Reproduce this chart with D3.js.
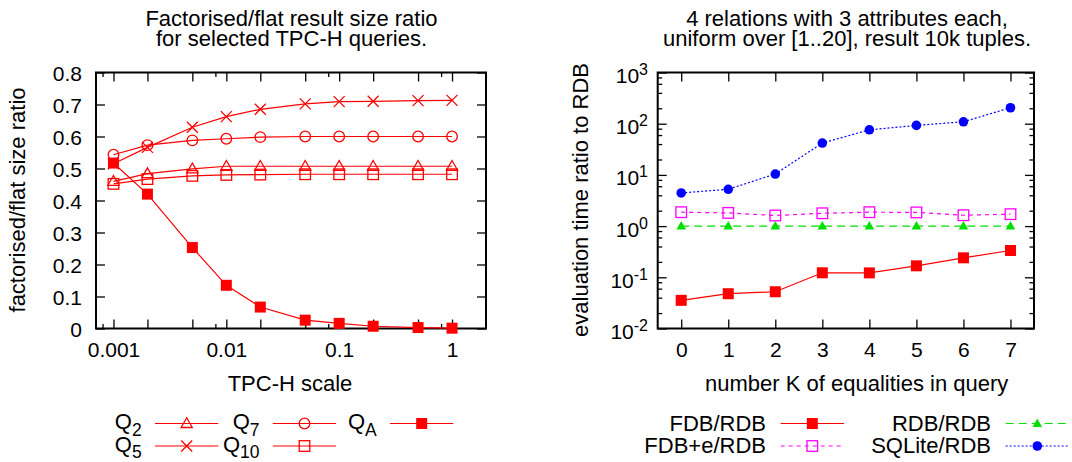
<html>
<head>
<title>Factorised result size and evaluation time</title>
<script type="text/javascript" src="https://d3js.org/d3.v7.min.js"></script>
<style>
body{margin:0;background:#fff;}
text{font-family:"Liberation Sans",Arial,Helvetica,sans-serif;fill:#000;}
</style>
</head>
<body>
<script type="text/javascript">

// ---- left chart: factorised/flat size ratio vs TPC-H scale
var tpchScale = [0.001,0.002,0.005,0.01,0.02,0.05,0.1,0.2,0.5,1];
var q2  = [0.460,0.484,0.499,0.507,0.507,0.507,0.507,0.507,0.507,0.507];
var q5  = [0.515,0.566,0.629,0.662,0.685,0.702,0.709,0.710,0.712,0.713];
var q7  = [0.543,0.573,0.588,0.593,0.598,0.600,0.600,0.600,0.600,0.600];
var q10 = [0.452,0.467,0.477,0.480,0.481,0.482,0.482,0.482,0.482,0.482];
var qA  = [0.517,0.420,0.253,0.135,0.067,0.026,0.016,0.007,0.003,0.001];
var leftXLabelVals = [0.001,0.01,0.1,1];
var leftXLabels = ["0.001","0.01","0.1","1"];
var leftXMinor = [0.0008,0.008,0.08,0.8];
var leftYTicks = [0,0.1,0.2,0.3,0.4,0.5,0.6,0.7,0.8];
var leftYLabels = ["0","0.1","0.2","0.3","0.4","0.5","0.6","0.7","0.8"];

// ---- right chart: evaluation time ratio vs number of equalities
var kEq = [0,1,2,3,4,5,6,7];
var fdbRdb    = [0.0355,0.0478,0.0522,0.1225,0.122,0.1675,0.24,0.334];
var fdbeRdb   = [1.87,1.81,1.61,1.78,1.87,1.85,1.63,1.71];
var rdbRdb    = [1,1,1,1,1,1,1,1];
var sqliteRdb = [4.44,5.24,10.4,41.9,76,92.7,109,205];
var rightYTicks = [0.01,0.1,1,10,100,1000];
var rightYExp = ["-2","-1","0","1","2","3"];
var rightMinorMult = [2,4,6,8];

var svg = d3.select("body").append("svg")
            .attr("width",1072).attr("height",462)
            .style("background-color","#fff");

function styleAxis(g){
    g.select(".domain").remove();
    g.attr("font-size",21).attr("font-family",null);
    g.selectAll(".tick line").attr("stroke","#000").attr("stroke-width",1.3);
    g.selectAll(".tick text").attr("fill","#000");
}

function marker(g,type,x,y,color){
    if(type=="tri"){
        g.append("path").attr("d","M"+x+","+(y-5.8)+"L"+(x+5.6)+","+(y+4)+"L"+(x-5.6)+","+(y+4)+"Z")
         .attr("fill","none").attr("stroke",color).attr("stroke-width",1.3);
    } else if(type=="ftri"){
        g.append("path").attr("d","M"+x+","+(y-5)+"L"+(x+4.8)+","+(y+3.5)+"L"+(x-4.8)+","+(y+3.5)+"Z")
         .attr("fill",color);
    } else if(type=="cross"){
        g.append("path").attr("d","M"+(x-5.5)+","+(y-5.5)+"L"+(x+5.5)+","+(y+5.5)+"M"+(x+5.5)+","+(y-5.5)+"L"+(x-5.5)+","+(y+5.5))
         .attr("stroke",color).attr("stroke-width",1.3);
    } else if(type=="circle"){
        g.append("circle").attr("cx",x).attr("cy",y).attr("r",5.3)
         .attr("fill","none").attr("stroke",color).attr("stroke-width",1.3);
    } else if(type=="fcircle"){
        g.append("circle").attr("cx",x).attr("cy",y).attr("r",4.8).attr("fill",color);
    } else if(type=="square"){
        g.append("rect").attr("x",x-5.3).attr("y",y-5.3).attr("width",10.6).attr("height",10.6)
         .attr("fill","none").attr("stroke",color).attr("stroke-width",1.3);
    } else if(type=="fsquare"){
        g.append("rect").attr("x",x-5.5).attr("y",y-5.5).attr("width",11).attr("height",11).attr("fill",color);
    }
}

// two-line title as one text element
function title(lines,cx){
    var t = svg.append("text").attr("x",cx).attr("y",25.7)
               .attr("text-anchor","middle").attr("font-size",22);
    lines.forEach(function(s,i){
        t.append("tspan").attr("x",cx).attr("dy",i==0?0:20.3).text(s);
    });
}

// ================= LEFT =================
var xL = d3.scaleLog().domain([0.0007,2]).range([96,486]);
var yL = d3.scaleLinear().domain([0,0.8]).range([328.5,72.5]);

title(["Factorised/flat result size ratio","for selected TPC-H queries."],291.5);

svg.append("g").attr("transform","translate(0,328.5)")
   .call(d3.axisBottom(xL).tickValues(tpchScale).tickSize(-9)
        .tickFormat(function(d){var i=leftXLabelVals.indexOf(d);return i<0?"":leftXLabels[i];}))
   .call(styleAxis)
   .call(function(g){g.selectAll(".tick text").attr("y",28.2).attr("dy",0);});
svg.append("g").attr("transform","translate(0,328.5)")
   .call(d3.axisBottom(xL).tickValues(leftXMinor).tickSize(-4.5).tickFormat(""))
   .call(styleAxis);
svg.append("g").attr("transform","translate(0,72.5)")
   .call(d3.axisTop(xL).tickValues(tpchScale).tickSize(-9).tickFormat(""))
   .call(styleAxis);
svg.append("g").attr("transform","translate(0,72.5)")
   .call(d3.axisTop(xL).tickValues(leftXMinor).tickSize(-4.5).tickFormat(""))
   .call(styleAxis);
svg.append("g").attr("transform","translate(96,0)")
   .call(d3.axisLeft(yL).tickValues(leftYTicks).tickSize(-9)
        .tickFormat(function(d,i){return leftYLabels[i];}))
   .call(styleAxis)
   .call(function(g){g.selectAll(".tick text").attr("x",-14).attr("dy","0.38em");});
svg.append("g").attr("transform","translate(486,0)")
   .call(d3.axisRight(yL).tickValues(leftYTicks).tickSize(-9).tickFormat(""))
   .call(styleAxis);

svg.append("rect").attr("x",96).attr("y",72.5).attr("width",390).attr("height",256)
   .attr("fill","none").attr("stroke","#000").attr("stroke-width",2);

svg.append("text").attr("transform","translate(25,200) rotate(-90)")
   .attr("text-anchor","middle").attr("font-size",22).text("factorised/flat size ratio");
svg.append("text").attr("x",290).attr("y",390.7)
   .attr("text-anchor","middle").attr("font-size",22).text("TPC-H scale");

var leftSeries = [
    {sub:"2",vals:q2,m:"tri"},
    {sub:"5",vals:q5,m:"cross"},
    {sub:"7",vals:q7,m:"circle"},
    {sub:"10",vals:q10,m:"square"},
    {sub:"A",vals:qA,m:"fsquare"}
];
var lineL = d3.line().x(function(d){return xL(d[0]);}).y(function(d){return yL(d[1]);});
var gL = svg.append("g");
leftSeries.forEach(function(s){
    var pts = tpchScale.map(function(x,i){return [x,s.vals[i]];});
    gL.append("path").attr("d",lineL(pts)).attr("fill","none")
      .attr("stroke","#ff0000").attr("stroke-width",1.2);
    pts.forEach(function(p){marker(gL,s.m,xL(p[0]),yL(p[1]),"#ff0000");});
});

// left legend
var legLTextEnd = [141.7,259.5,376.7];
var legRowY = [423.5,446];
leftSeries.forEach(function(s,i){
    var col = Math.floor(i/2), row = i%2;
    var te = legLTextEnd[col], ly = legRowY[row];
    var t = svg.append("text").attr("x",te).attr("y",ly+5.5)
               .attr("text-anchor","end").attr("font-size",22);
    t.append("tspan").text("Q");
    t.append("tspan").attr("font-size",17.5).attr("dy",6.7).text(s.sub);
    svg.append("line").attr("x1",te+13.3).attr("x2",te+76.6).attr("y1",ly).attr("y2",ly)
       .attr("stroke","#ff0000").attr("stroke-width",1.2);
    marker(svg,s.m,te+45,ly,"#ff0000");
});

// ================= RIGHT =================
var xR = d3.scaleLinear().domain([-0.5,7.5]).range([657.7,1034]);
var yR = d3.scaleLog().domain([0.01,1000]).range([328.5,72.5]);

title(["4 relations with 3 attributes each,","uniform over [1..20], result 10k tuples."],847);

var rightMinor = [];
rightYTicks.slice(0,-1).forEach(function(d){
    rightMinorMult.forEach(function(m){rightMinor.push(d*m);});
});

svg.append("g").attr("transform","translate(0,328.5)")
   .call(d3.axisBottom(xR).tickValues(kEq).tickSize(-9).tickFormat(d3.format("d")))
   .call(styleAxis)
   .call(function(g){g.selectAll(".tick text").attr("y",28.2).attr("dy",0);});
svg.append("g").attr("transform","translate(0,72.5)")
   .call(d3.axisTop(xR).tickValues(kEq).tickSize(-9).tickFormat(""))
   .call(styleAxis);
svg.append("g").attr("transform","translate(657.7,0)")
   .call(d3.axisLeft(yR).tickValues(rightYTicks).tickSize(-9).tickFormat(""))
   .call(styleAxis)
   .call(function(g){
       g.selectAll(".tick text").each(function(d,i){
           var t = d3.select(this).attr("x",-9.7).attr("dy",10);
           t.append("tspan").text("10");
           t.append("tspan").attr("font-size",16).attr("dy",-8).text(rightYExp[i]);
       });
   });
svg.append("g").attr("transform","translate(657.7,0)")
   .call(d3.axisLeft(yR).tickValues(rightMinor).tickSize(-4.5).tickFormat(""))
   .call(styleAxis);
svg.append("g").attr("transform","translate(1034,0)")
   .call(d3.axisRight(yR).tickValues(rightYTicks).tickSize(-9).tickFormat(""))
   .call(styleAxis);
svg.append("g").attr("transform","translate(1034,0)")
   .call(d3.axisRight(yR).tickValues(rightMinor).tickSize(-4.5).tickFormat(""))
   .call(styleAxis);

svg.append("rect").attr("x",657.7).attr("y",72.5).attr("width",376.3).attr("height",256)
   .attr("fill","none").attr("stroke","#000").attr("stroke-width",2);

svg.append("text").attr("transform","translate(588,200) rotate(-90)")
   .attr("text-anchor","middle").attr("font-size",22).text("evaluation time ratio to RDB");
svg.append("text").attr("x",856.7).attr("y",390.7)
   .attr("text-anchor","middle").attr("font-size",22).text("number K of equalities in query");

var rightSeries = [
    {name:"FDB/RDB",vals:fdbRdb,m:"fsquare",c:"#ff0000",dash:null},
    {name:"FDB+e/RDB",vals:fdbeRdb,m:"square",c:"#ff00ff",dash:"4,4"},
    {name:"RDB/RDB",vals:rdbRdb,m:"ftri",c:"#00e000",dash:"8,5"},
    {name:"SQLite/RDB",vals:sqliteRdb,m:"fcircle",c:"#0000ff",dash:"2,2"}
];
var lineR = d3.line().x(function(d){return xR(d[0]);}).y(function(d){return yR(d[1]);});
var gR = svg.append("g");
rightSeries.forEach(function(s){
    var pts = kEq.map(function(x,i){return [x,s.vals[i]];});
    gR.append("path").attr("d",lineR(pts)).attr("fill","none")
      .attr("stroke",s.c).attr("stroke-width",1.2).attr("stroke-dasharray",s.dash);
    pts.forEach(function(p){marker(gR,s.m,xR(p[0]),yR(p[1]),s.c);});
});

var legRTextEnd = [766,991];
rightSeries.forEach(function(s,i){
    var col = Math.floor(i/2), row = i%2;
    var te = legRTextEnd[col], ly = legRowY[row];
    svg.append("text").attr("x",te).attr("y",ly+7.2)
       .attr("text-anchor","end").attr("font-size",22).text(s.name);
    svg.append("line").attr("x1",te+14.7).attr("x2",te+78).attr("y1",ly).attr("y2",ly)
       .attr("stroke",s.c).attr("stroke-width",1.2).attr("stroke-dasharray",s.dash);
    marker(svg,s.m,te+46.3,ly,s.c);
});

</script>
</body>
</html>
